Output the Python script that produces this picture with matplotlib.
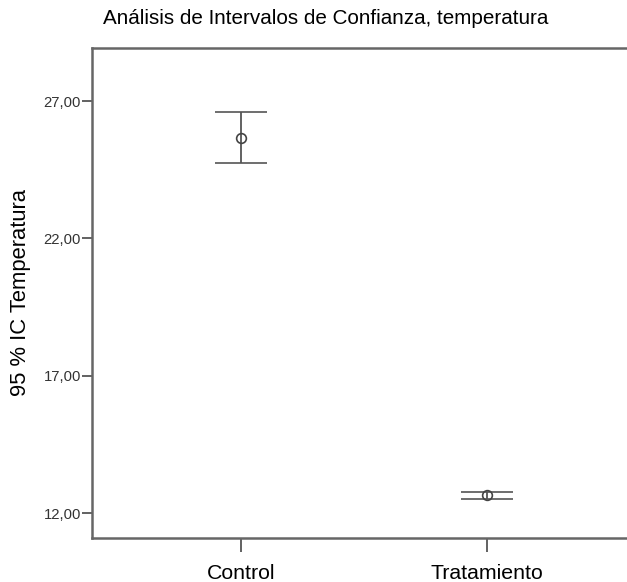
import matplotlib
matplotlib.use("Agg")
import matplotlib.pyplot as plt
from matplotlib import ticker

plt.rcParams['font.family'] = ['Liberation Sans', 'DejaVu Sans']

groups = ["Control", "Tratamiento"]
means = [25.65, 12.64]
lower = [24.75, 12.51]
upper = [26.60, 12.77]
yticks = [12, 17, 22, 27]

fig = plt.figure(figsize=(6.27, 5.82), dpi=100)
# axes runs a bit past the right edge, like the cropped original
ax = fig.add_axes([92 / 627, 44 / 582, 544 / 627, 490 / 582])

xs = list(range(1, len(groups) + 1))
err_lo = [m - l for m, l in zip(means, lower)]
err_hi = [u - m for m, u in zip(means, upper)]
ax.errorbar(xs, means, yerr=[err_lo, err_hi], fmt='o', color='#555555',
            mfc='none', mec='#444444', ms=7, mew=1.2, elinewidth=1.3,
            capsize=19, capthick=1.8)

ax.set_xlim(0.395, 2.605)
ax.set_ylim(11.09, 28.93)
ax.set_xticks(xs)
ax.set_xticklabels(groups, fontsize=15.3)
ax.yaxis.set_major_locator(ticker.FixedLocator(yticks))
ax.yaxis.set_major_formatter(ticker.FuncFormatter(lambda v, p: f"{v:.2f}".replace('.', ',')))
ax.tick_params(axis='y', length=7, width=1.3, color='#555555', labelsize=10.7, labelcolor='#333333', pad=1)
ax.tick_params(axis='x', length=10, width=1.3, color='#555555', pad=9)

for s in ax.spines.values():
    s.set_color('#666666')
    s.set_linewidth(1.8)

ax.set_ylabel("95 % IC Temperatura", fontsize=15.8, labelpad=9)
fig.text(103 / 627, 1 - 18 / 582, "Análisis de Intervalos de Confianza, temperatura",
         fontsize=14.9, va='center', ha='left')

fig.savefig("out.png", dpi=100)
